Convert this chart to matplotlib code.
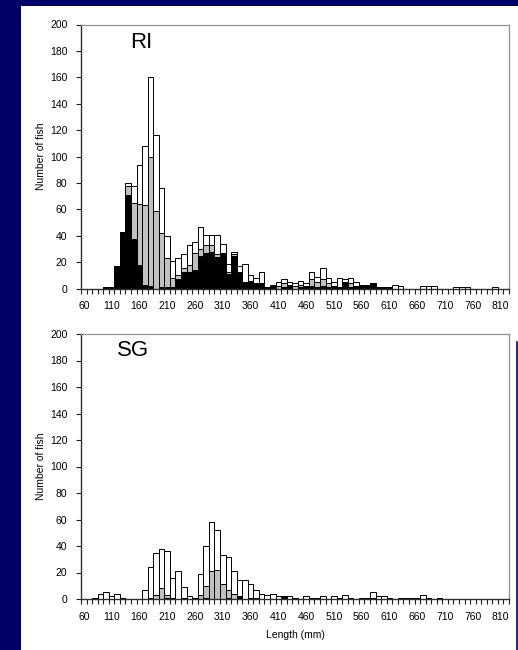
import matplotlib
matplotlib.use("Agg")
import matplotlib.pyplot as plt
from matplotlib.lines import Line2D
import numpy as np

plt.rcParams['font.family'] = ['Liberation Sans', 'DejaVu Sans']

# Length classes (mm), 10 mm bins
lengths = list(range(60, 830, 10))  # 60..820 (77 classes)
xtick_labels = list(range(60, 820, 50))

# RI: stacked counts (bottom black, middle grey, top white)
ri_black = [0, 0, 0, 0, 1, 1, 17, 43, 71, 38, 18, 3, 2, 0, 1, 1, 1, 7, 13, 13,
            14, 25, 27, 28, 24, 26, 11, 25, 12, 5, 6, 4, 4, 1, 2, 0, 1, 2, 0, 1,
            2, 2, 1, 2, 1, 1, 1, 5, 1, 1, 1, 1, 4, 1, 1, 1, 0, 0, 0, 0,
            0, 0, 0, 0, 0, 0, 0, 0, 0, 0, 0, 0, 0, 0, 0, 0, 0]
ri_grey = [0, 0, 0, 0, 0, 0, 0, 0, 7, 27, 46, 60, 98, 59, 41, 22, 7, 3, 3, 5,
           13, 5, 6, 5, 2, 1, 2, 1, 1, 0, 0, 0, 0, 0, 0, 2, 3, 1, 2, 2,
           0, 5, 4, 5, 3, 1, 0, 0, 3, 1, 1, 1, 0, 0, 0, 0, 0, 0, 0, 0,
           0, 0, 0, 0, 0, 0, 0, 0, 0, 0, 0, 0, 0, 0, 0, 0, 0]
ri_white = [0, 0, 0, 0, 0, 0, 0, 0, 2, 13, 30, 45, 60, 57, 34, 17, 13, 13, 10, 15,
            8, 17, 8, 8, 15, 7, 6, 2, 4, 14, 4, 4, 9, 0, 1, 3, 3, 2, 2, 3,
            2, 6, 4, 9, 4, 3, 7, 2, 4, 3, 1, 1, 0, 0, 0, 0, 3, 2, 0, 0,
            0, 2, 2, 2, 0, 0, 0, 1, 1, 1, 0, 0, 0, 0, 1, 0, 0]

# SG: stacked counts
sg_black = [0, 0, 1, 0, 0, 0, 0, 1, 0, 0, 0, 0, 1, 0, 0, 1, 1, 0, 1, 0,
            1, 0, 1, 0, 0, 0, 1, 0, 2, 0, 1, 0, 0, 0, 0, 0, 2, 0, 1, 0,
            0, 1, 1, 0, 0, 0, 1, 0, 1, 0, 1, 1, 1, 0, 0, 1, 0, 1, 1, 1,
            1, 0, 1, 0, 1, 0, 0, 0, 0, 0, 0, 0, 0, 0, 0, 0, 0]
sg_grey = [0, 0, 0, 0, 0, 0, 0, 0, 0, 0, 0, 0, 0, 3, 8, 2, 0, 0, 0, 0,
           0, 3, 9, 21, 22, 11, 6, 4, 0, 0, 0, 1, 0, 0, 0, 0, 0, 0, 0, 0,
           0, 0, 0, 0, 0, 0, 0, 0, 0, 0, 0, 0, 0, 0, 0, 0, 0, 0, 0, 0,
           0, 0, 0, 0, 0, 0, 0, 0, 0, 0, 0, 0, 0, 0, 0, 0, 0]
sg_white = [0, 0, 0, 4, 5, 2, 4, 0, 0, 0, 0, 7, 23, 32, 30, 33, 15, 21, 8, 2,
            0, 16, 30, 37, 30, 22, 25, 17, 12, 14, 10, 6, 4, 3, 4, 2, 0, 2, 0, 0,
            2, 0, 0, 2, 0, 2, 0, 3, 0, 0, 0, 0, 4, 2, 2, 0, 0, 0, 0, 0,
            0, 3, 0, 0, 0, 0, 0, 0, 0, 0, 0, 0, 0, 0, 0, 0, 0]

yticks = list(range(0, 201, 20))

W, H = 518, 650
NAVY = '#000066'
GREY = '#c0c0c0'

fig = plt.figure(figsize=(W / 100, H / 100), dpi=100)
fig.patch.set_facecolor(NAVY)

# white panel
bg = plt.Rectangle((20.5 / W, 0), 1 - 20.5 / W, 1 - 6 / H, transform=fig.transFigure,
                   facecolor='white', edgecolor='none', zorder=0)
fig.add_artist(bg)
fig.add_artist(Line2D([516.5 / W, 516.5 / W], [0, 1 - 342 / H], color=NAVY, lw=1.2,
                      transform=fig.transFigure))


def make_ax(top_px, bottom_px):
    ax = fig.add_axes([81 / W, 1 - bottom_px / H, 428 / W, (bottom_px - top_px) / H])
    ax.set_facecolor('white')
    return ax


def draw(ax, black, grey, white, label, label_xy):
    b = np.array(black)
    g = np.array(grey)
    w = np.array(white)
    kw = dict(width=10, align='center', edgecolor='black', linewidth=0.7)
    ax.bar(lengths, b, color='black', **kw)
    ax.bar(lengths, g, bottom=b, color=GREY, **kw)
    ax.bar(lengths, w, bottom=b + g, color='white', **kw)
    ax.set_xlim(55, 825)
    ax.set_ylim(0, 200)
    ax.set_yticks(yticks)
    ax.set_xticks(xtick_labels)
    ax.set_xticklabels([str(v) for v in xtick_labels])
    ax.set_xticks(np.arange(55, 826, 10), minor=True)
    ax.tick_params(axis='x', which='major', length=0, pad=9, labelsize=7.5, colors='black')
    ax.tick_params(axis='x', which='minor', length=3.5, direction='out', width=0.8, color='#202020')
    ax.tick_params(axis='y', which='major', length=3.5, direction='out', width=0.8,
                   labelsize=7.5, pad=6.3, color='#202020')
    for s in ['top', 'right']:
        ax.spines[s].set_color('#909090')
        ax.spines[s].set_linewidth(0.9)
    for s in ['left', 'bottom']:
        ax.spines[s].set_color('#303030')
        ax.spines[s].set_linewidth(1.0)
    ax.set_ylabel('Number of fish', fontsize=7.5, labelpad=2.5)
    fig.text(label_xy[0] / W, 1 - label_xy[1] / H, label, fontsize=16,
             ha='center', va='center')


ax1 = make_ax(24.5, 288.7)
draw(ax1, ri_black, ri_grey, ri_white, 'RI', (141, 42))

ax2 = make_ax(334, 599)
draw(ax2, sg_black, sg_grey, sg_white, 'SG', (133, 351))
ax2.set_xlabel('Length (mm)', fontsize=7.5, labelpad=6)

fig.savefig('out.png', dpi=100, facecolor=fig.get_facecolor())
